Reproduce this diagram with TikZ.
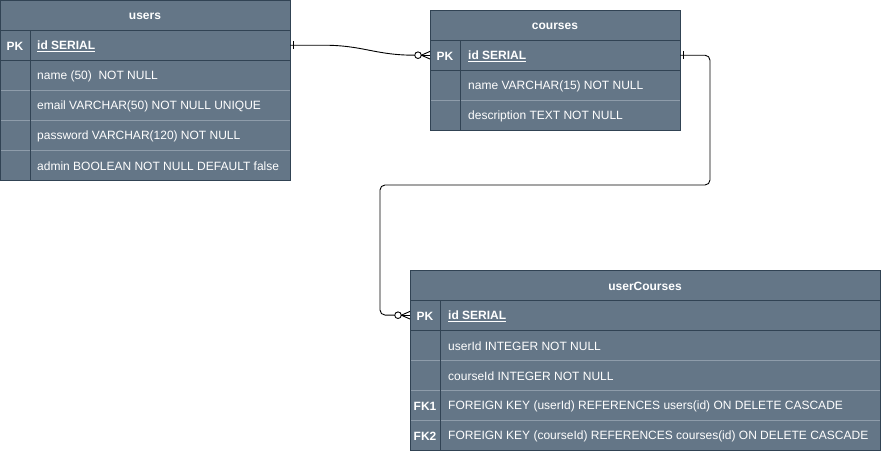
\documentclass[tikz,border=0pt]{standalone}
\usepackage{fontspec}
\setmainfont{Liberation Sans}
\usetikzlibrary{calc}
\definecolor{fillc}{HTML}{647687}
\definecolor{bdr}{HTML}{314354}
\definecolor{rowline}{HTML}{8E9CAA}
\tikzset{
  tbl/.style={draw=bdr, fill=fillc, line width=0.9pt, rectangle, inner sep=0, anchor=north west},
  rowbox/.style={rectangle, inner sep=0, anchor=north west, minimum height=30},
  hdr/.style={font=\fontsize{12}{14}\selectfont\bfseries, text=white, inner sep=0, yshift=-1pt},
  keylbl/.style={font=\fontsize{12}{14}\selectfont\bfseries, text=white, inner sep=0, yshift=-1pt},
  fld/.style={font=\fontsize{12}{14}\selectfont, text=white, inner sep=0, anchor=west, yshift=-1pt},
  pkfld/.style={font=\fontsize{12}{14}\selectfont\bfseries, text=white, inner sep=0, anchor=west, yshift=-1pt},
  darksep/.style={draw=bdr, line width=0.9pt},
  lightsep/.style={draw=rowline, line width=0.8pt},
  conn/.style={draw=black, line width=0.9pt},
  manyend/.pic={
    \draw[conn] (-12,0) circle (3.3);
    \draw[conn] (-8.7,0) -- (0,0);
    \draw[conn] (-8.7,0) -- (0,-3.8) (-8.7,0) -- (0,3.8);
  },
  oneend/.pic={
    \draw[conn] (3,-4) -- (3,4);
  },
}
\newcommand{\ulfield}[1]{\underline{#1}}
\begin{document}
\begin{tikzpicture}[x=1pt,y=-1pt]
\useasboundingbox (0,0) rectangle (881,451);

% ---------------- users ----------------
\node[tbl, minimum width=290, minimum height=180] (users) at (0,0) {};
\node[rowbox, minimum width=290] (u1) at (0,30) {};
\node[rowbox, minimum width=290] (u2) at (0,60) {};
\node[rowbox, minimum width=290] (u3) at (0,90) {};
\node[rowbox, minimum width=290] (u4) at (0,120) {};
\node[rowbox, minimum width=290] (u5) at (0,150) {};
\draw[darksep] (0,30) -- (290,30);
\draw[darksep] (0,60) -- (290,60);
\draw[lightsep] (0,90) -- (290,90) (0,120) -- (290,120) (0,150) -- (290,150);
\draw[darksep] (30,30) -- (30,180);
\draw[draw=bdr, line width=0.9pt] (0,0) rectangle (290,180);
\node[hdr] (usersT) at (145,15) {users};
\node[keylbl] (uk1) at (15,45) {PK};
\node[pkfld] (uf1) at (37,45) {\ulfield{id SERIAL}};
\node[fld] (uf2) at (37,75) {name (50)\ \ NOT NULL};
\node[fld] (uf3) at (37,105) {email VARCHAR(50) NOT NULL UNIQUE};
\node[fld] (uf4) at (37,135) {password VARCHAR(120) NOT NULL};
\node[fld] (uf5) at (37,165) {admin BOOLEAN NOT NULL DEFAULT false};

% ---------------- courses ----------------
\node[tbl, minimum width=250, minimum height=120] (courses) at (430,10) {};
\node[rowbox, minimum width=250] (c1) at (430,40) {};
\node[rowbox, minimum width=250] (c2) at (430,70) {};
\node[rowbox, minimum width=250] (c3) at (430,100) {};
\draw[darksep] (430,40) -- (680,40);
\draw[darksep] (430,70) -- (680,70);
\draw[lightsep] (430,100) -- (680,100);
\draw[darksep] (460,40) -- (460,130);
\draw[draw=bdr, line width=0.9pt] (430,10) rectangle (680,130);
\node[hdr] (coursesT) at (555,25) {courses};
\node[keylbl] (ck1) at (445,55) {PK};
\node[pkfld] (cf1) at (468,55) {\ulfield{id SERIAL}};
\node[fld] (cf2) at (468,85) {name VARCHAR(15) NOT NULL};
\node[fld] (cf3) at (468,115) {description TEXT NOT NULL};

% ---------------- userCourses ----------------
\node[tbl, minimum width=470, minimum height=180] (uc) at (410,270) {};
\node[rowbox, minimum width=470] (uc1) at (410,300) {};
\node[rowbox, minimum width=470] (uc2) at (410,330) {};
\node[rowbox, minimum width=470] (uc3) at (410,360) {};
\node[rowbox, minimum width=470] (uc4) at (410,390) {};
\node[rowbox, minimum width=470] (uc5) at (410,420) {};
\draw[darksep] (410,300) -- (880,300);
\draw[darksep] (410,330) -- (880,330);
\draw[lightsep] (410,360) -- (880,360) (410,390) -- (880,390) (410,420) -- (880,420);
\draw[darksep] (440,300) -- (440,450);
\draw[draw=bdr, line width=0.9pt] (410,270) rectangle (880,450);
\node[hdr] (ucT) at (645,285) {userCourses};
\node[keylbl] (uck1) at (425,315) {PK};
\node[keylbl] (uck4) at (425,405) {FK1};
\node[keylbl] (uck5) at (425,435) {FK2};
\node[pkfld] (ucf1) at (448,315) {\ulfield{id SERIAL}};
\node[fld] (ucf2) at (448,345) {userId INTEGER NOT NULL};
\node[fld] (ucf3) at (448,375) {courseId INTEGER NOT NULL};
\node[fld] (ucf4) at (448,405) {FOREIGN KEY (userId) REFERENCES users(id) ON DELETE CASCADE};
\node[fld] (ucf5) at (448,435) {FOREIGN KEY (courseId) REFERENCES courses(id) ON DELETE CASCADE};

% ---------------- connectors ----------------
% users.id -> courses.id
\coordinate (a1) at ($(c1.west)+(-15.3,0)$);
\draw[conn] (u1.east) -- ++(33,0) .. controls ++(40,0) and ($(a1)+(-40,0)$) .. (a1);
\pic at (u1.east) {oneend};
\pic at (c1.west) {manyend};

% courses.id -> userCourses.id
\coordinate (a2) at ($(uc1.west)+(-15.3,0)$);
\draw[conn, rounded corners=5pt] (c1.east) -| (710,185) -| (380,315) -- (a2);
\pic at (c1.east) {oneend};
\pic at (uc1.west) {manyend};
\end{tikzpicture}
\end{document}
